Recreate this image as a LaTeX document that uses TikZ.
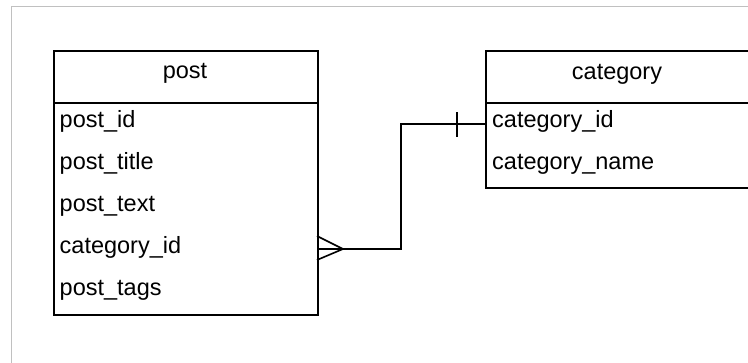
\documentclass[tikz,border=0pt]{standalone}
\usepackage{fontspec}
\setmainfont{Liberation Sans}
\begin{document}
\begin{tikzpicture}[x=1pt,y=-1pt,
  box/.style={draw=black,line width=1.8pt,rectangle,inner sep=0pt,anchor=north west,minimum width=264pt},
  head/.style={box,minimum height=52pt},
  field/.style={anchor=base west,inner sep=0pt,font=\fontsize{23.5}{25}\selectfont},
  title/.style={anchor=base,inner sep=0pt,font=\fontsize{23.5}{25}\selectfont},
  conn/.style={draw=black,line width=1.6pt}]
\useasboundingbox (0,0) rectangle (748,363);
\fill[white] (0,0) rectangle (748,363);
\draw[color={rgb,255:red,192;green,192;blue,192},line width=1pt] (11,363) -- (11,7) -- (748,7);
\begin{scope}
\clip (0,0) rectangle (748,363);
% post table
\node[head] (posthead) at (53,50) {};
\node[box,minimum height=212pt] (postbody) at (53,102) {};
\node[title] (posttitle) at (185,79) {post};
\node[field] (pid) at (59.5,128) {post\_id};
\node[field] (ptitle) at (59.5,170) {post\_title};
\node[field] (ptext) at (59.5,212) {post\_text};
\node[field] (pcat) at (59.5,254) {category\_id};
\node[field] (ptags) at (59.5,296) {post\_tags};
% category table
\node[head,minimum width=263.5pt] (cathead) at (485,50) {};
\node[box,minimum width=263.5pt,minimum height=85pt] (catbody) at (485,102) {};
\node[title] (cattitle) at (617,80) {category};
\node[field] (cid) at (492,128) {category\_id};
\node[field] (cname) at (492,170) {category\_name};
\end{scope}
% connector
\coordinate (pend) at (317,249);
\coordinate (cend) at (485,124);
\draw[conn] (pend) -- ++(84,0) |- (cend);
% crow's foot
\draw[conn] ([yshift=-11pt]pend) -- ([xshift=26pt]pend) -- ([yshift=13pt]pend);
% one mark
\draw[conn] ([xshift=-28pt,yshift=-13pt]cend) -- ([xshift=-28pt,yshift=12pt]cend);
\end{tikzpicture}
\end{document}
